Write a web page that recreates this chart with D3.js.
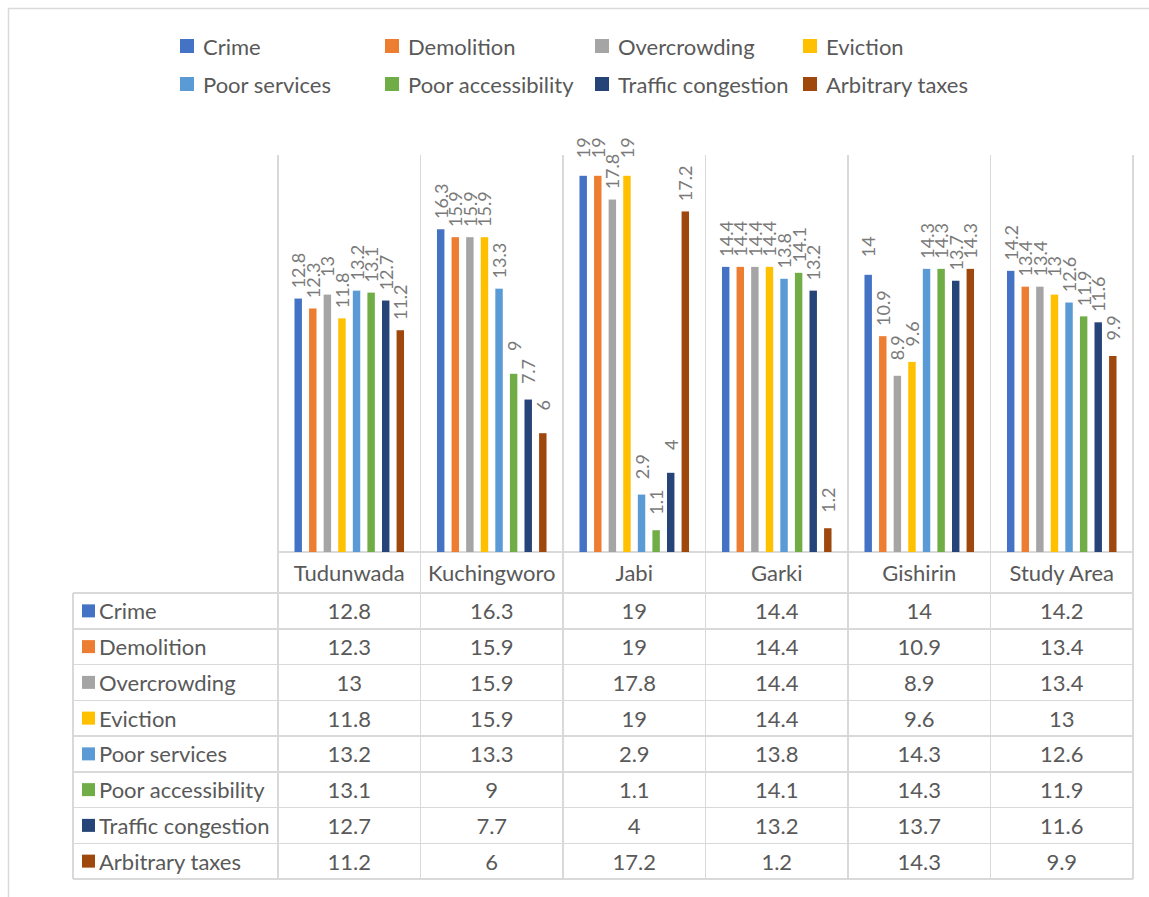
<!DOCTYPE html>
<html>
<head>
<meta charset="utf-8">
<script src="https://cdn.jsdelivr.net/npm/d3@7"></script>
<style>
  html, body { margin: 0; padding: 0; background: #ffffff; }
  svg text { font-family: Lato, "Open Sans", sans-serif; }
</style>
</head>
<body>
<svg id="chart" width="1149" height="897"></svg>
<script>
// Areas surveyed
const categories = ["Tudunwada", "Kuchingworo", "Jabi", "Garki", "Gishirin", "Study Area"];

// Problem types and their colours
const seriesNames = ["Crime", "Demolition", "Overcrowding", "Eviction",
  "Poor services", "Poor accessibility", "Traffic congestion", "Arbitrary taxes"];
const seriesColors = ["#4472C4", "#ED7D31", "#A5A5A5", "#FFC000",
  "#5B9BD5", "#70AD47", "#264478", "#9E480E"];

// Percentages per area, one array per problem type
const crime             = [12.8, 16.3, 19,   14.4, 14,   14.2];
const demolition        = [12.3, 15.9, 19,   14.4, 10.9, 13.4];
const overcrowding      = [13,   15.9, 17.8, 14.4, 8.9,  13.4];
const eviction          = [11.8, 15.9, 19,   14.4, 9.6,  13];
const poorServices      = [13.2, 13.3, 2.9,  13.8, 14.3, 12.6];
const poorAccessibility = [13.1, 9,    1.1,  14.1, 14.3, 11.9];
const trafficCongestion = [12.7, 7.7,  4,    13.2, 13.7, 11.6];
const arbitraryTaxes    = [11.2, 6,    17.2, 1.2,  14.3, 9.9];

const seriesValues = [crime, demolition, overcrowding, eviction,
  poorServices, poorAccessibility, trafficCongestion, arbitraryTaxes];

const series = seriesNames.map((name, i) => ({
  name, color: seriesColors[i], values: seriesValues[i]
}));

const svg = d3.select("#chart");
const textColor = "#595959";
const labelColor = "#7a7a7a";
const gridColor = "#d9d9d9";
const mainFont = 22;
const labelFont = 18;

// Chart frame
svg.append("rect")
  .attr("x", 8.5).attr("y", 8.5)
  .attr("width", 1200).attr("height", 1000)
  .attr("fill", "none").attr("stroke", gridColor).attr("stroke-width", 1.5);

// Geometry of plot and data table
const plotLeft = 278, plotRight = 1133, plotTop = 155, baseY = 552;
const headerBottom = 593, rowH = 35.75, tableLeft = 73;
const tableBottom = headerBottom + rowH * series.length;

const x0 = d3.scaleBand().domain(categories).range([plotLeft, plotRight]).padding(0);
const x1 = d3.scaleBand().domain(seriesNames).range([0, x0.bandwidth()])
  .paddingInner(0.49).paddingOuter(1.13);
const y = d3.scaleLinear().domain([0, 20]).range([baseY, 156]);

// Grid / table lines
const lines = svg.append("g").attr("stroke", gridColor).attr("stroke-width", 1.5)
  .attr("shape-rendering", "crispEdges");
const bounds = categories.map(c => x0(c)).concat([plotRight]);
bounds.forEach(bx => {
  lines.append("line").attr("x1", bx).attr("x2", bx)
    .attr("y1", plotTop).attr("y2", tableBottom);
});
lines.append("line").attr("x1", tableLeft).attr("x2", tableLeft)
  .attr("y1", headerBottom).attr("y2", tableBottom);
lines.append("line").attr("x1", plotLeft).attr("x2", plotRight)
  .attr("y1", baseY).attr("y2", baseY);
d3.range(series.length + 1).forEach(i => {
  const ly = headerBottom + i * rowH;
  lines.append("line").attr("x1", tableLeft).attr("x2", plotRight)
    .attr("y1", ly).attr("y2", ly);
});

// Bars
const groups = svg.append("g").selectAll("g")
  .data(categories)
  .join("g")
  .attr("transform", c => `translate(${x0(c)},0)`);

groups.selectAll("rect")
  .data((c, ci) => series.map(s => ({ s, v: s.values[ci] })))
  .join("rect")
  .attr("x", d => x1(d.s.name))
  .attr("y", d => y(d.v))
  .attr("width", x1.bandwidth())
  .attr("height", d => baseY - y(d.v))
  .attr("fill", d => d.s.color);

// Rotated value labels above the bars
groups.selectAll("text")
  .data((c, ci) => series.map(s => ({ s, v: s.values[ci] })))
  .join("text")
  .attr("transform", d => `translate(${x1(d.s.name) + x1.bandwidth() / 2},${y(d.v) - 28}) rotate(-90)`)
  .attr("text-anchor", "middle")
  .attr("dominant-baseline", "central")
  .attr("font-size", labelFont)
  .attr("fill", labelColor)
  .text(d => d.v);

// Category header row
svg.append("g").selectAll("text")
  .data(categories)
  .join("text")
  .attr("x", c => x0(c) + x0.bandwidth() / 2)
  .attr("y", (baseY + headerBottom) / 2)
  .attr("text-anchor", "middle")
  .attr("dominant-baseline", "central")
  .attr("font-size", mainFont)
  .attr("fill", textColor)
  .text(c => c);

// Data table rows
const rows = svg.append("g").selectAll("g")
  .data(series)
  .join("g")
  .attr("transform", (s, i) => `translate(0,${headerBottom + i * rowH + rowH / 2})`);

rows.append("rect")
  .attr("x", 82).attr("y", -6.5).attr("width", 13).attr("height", 13)
  .attr("fill", s => s.color);

rows.append("text")
  .attr("x", 99)
  .attr("dominant-baseline", "central")
  .attr("font-size", mainFont)
  .attr("fill", textColor)
  .text(s => s.name);

rows.selectAll("text.val")
  .data(s => s.values.map((v, ci) => ({ v, c: categories[ci] })))
  .join("text")
  .attr("class", "val")
  .attr("x", d => x0(d.c) + x0.bandwidth() / 2)
  .attr("text-anchor", "middle")
  .attr("dominant-baseline", "central")
  .attr("font-size", mainFont)
  .attr("fill", textColor)
  .text(d => d.v);

// Legend: two rows of four
const legendX = [203, 408, 618, 826];
const legendY = [46, 84];
const legend = svg.append("g").selectAll("g")
  .data(series)
  .join("g")
  .attr("transform", (s, i) => `translate(${legendX[i % 4]},${legendY[Math.floor(i / 4)]})`);

legend.append("rect")
  .attr("x", -23).attr("y", -7).attr("width", 14).attr("height", 14)
  .attr("fill", s => s.color);

legend.append("text")
  .attr("dominant-baseline", "central")
  .attr("font-size", mainFont)
  .attr("fill", textColor)
  .text(s => s.name);
</script>
</body>
</html>
